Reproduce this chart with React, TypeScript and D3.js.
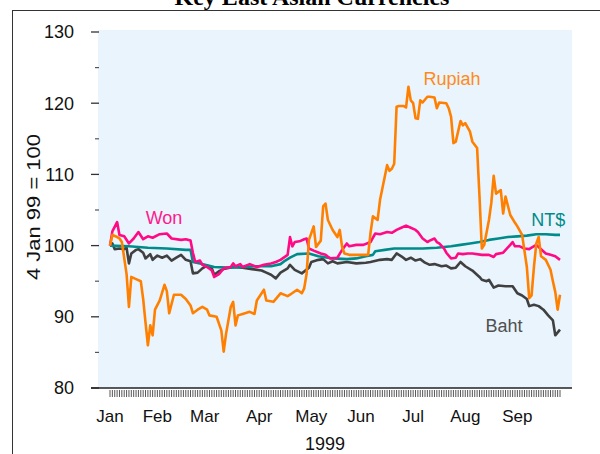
import React from "react";
import * as d3 from "d3";

// business-day index from 4 Jan 1999 (day 0)
const monthLabels = ["Jan", "Feb", "Mar", "Apr", "May", "Jun", "Jul", "Aug", "Sep"];
const monthStarts = [0, 20, 40, 63, 85, 106, 128, 150, 172];
const lastDay = 190;

const yMajor = [80, 90, 100, 110, 120, 130];
const yMinor = [85, 95, 105, 115, 125];

// [day, index value]
const rupiah: [number, number][] = [
	[0, 100], [1, 101.5], [3, 101.2], [4, 101.0], [5, 100.5], [7, 96], [8, 91.4], [9, 95.6],
	[11, 95.3], [13, 95], [14, 92.5], [15, 89.2], [16, 86.0], [17, 88.8], [18, 87.4], [19, 91],
	[21, 92.3], [23, 94.5], [24, 93.6], [25, 90.5], [27, 93.1], [30, 93.1], [32, 92.5], [34, 91.6],
	[35, 90.5], [37, 91], [39, 91.4], [41, 91], [42, 90.2], [45, 90], [47, 88.1], [48, 85.1],
	[49, 87.6], [51, 91.4], [52, 92.1], [53, 88.8], [54, 90.2], [56, 90.4], [59, 90.7], [61, 90.4],
	[62, 92.3], [65, 93.8], [66, 92.3], [69, 92.1], [72, 93.3], [75, 92.9], [76, 93.1], [79, 93.8],
	[81, 93.3], [82, 94], [83, 96], [84, 100.8], [86, 102.7], [87, 99.8], [89, 100.7], [90, 105.5],
	[91, 105.9], [92, 103.6], [94, 102.2], [96, 101.2], [97, 102.2], [98, 99.8], [99, 98.9],
	[101, 98.7], [107, 98.7], [109, 98.7], [110, 101.8], [111, 104.1], [113, 103.6], [114, 106.4],
	[117, 111.3], [118, 110.5], [119, 110.8], [120, 111.5], [121, 119.5], [122, 119.6], [124, 119.6],
	[125, 119.4], [126, 122.3], [127, 120.4], [128, 120], [129, 117.9], [130, 117.8], [131, 120.4],
	[132, 120.1], [134, 120.9], [135, 120.9], [137, 120.8], [138, 119.3], [139, 120.1], [142, 120],
	[143, 119.3], [144, 118.1], [145, 114.4], [146, 114.6], [148, 117.5], [149, 116.9], [150, 117.2],
	[152, 116], [153, 114.6], [155, 113.7], [156, 107], [157, 99.6], [158, 100.1], [160, 103.6],
	[161, 106], [162, 109.8], [163, 107.3], [165, 107.8], [166, 104.5], [167, 106.9], [169, 104.3],
	[171, 103.2], [172, 102.7], [174, 101.5], [176, 97], [177, 92.6], [178, 93.0], [179, 97],
	[180, 100.3], [181, 101.2], [182, 98.5], [184, 98.0], [186, 96.6], [187, 95.0], [188, 93.5],
	[189, 91.0], [190, 93.1]
];

const won: [number, number][] = [
	[0, 100], [1, 102], [3, 103.3], [4, 101.5], [6, 101.3], [8, 100.3], [10, 101], [12, 101.9],
	[14, 100.9], [16, 101.3], [18, 101.1], [21, 101.6], [24, 101.7], [26, 101], [30, 100.8],
	[32, 100.9], [34, 100.7], [35, 99.0], [36, 97.7], [38, 97.9], [39, 97.3], [41, 97.0], [43, 96.5],
	[44, 95.6], [46, 96.0], [48, 96.8], [51, 97.0], [52, 97.5], [53, 97.1], [55, 97.4], [56, 97.0],
	[59, 97.4], [62, 97.0], [65, 97.3], [68, 97.5], [70, 97.7], [72, 98], [75, 98.7], [76, 101.2],
	[77, 99.9], [78, 100.5], [80, 100.6], [82, 100.9], [83, 101.0], [84, 99.6], [86, 99.3],
	[89, 98.9], [91, 98.7], [93, 98.2], [96, 98.3], [98, 99.4], [100, 100.3], [101, 99.9],
	[104, 100.1], [107, 100.1], [110, 100.5], [112, 101.7], [114, 101.6], [117, 101.9], [119, 101.8],
	[121, 102.2], [123, 102.5], [125, 102.8], [127, 102.5], [129, 102.2], [130, 101.9], [132, 101.0],
	[134, 100.5], [135, 100.7], [137, 101.0], [138, 100.5], [139, 100.3], [141, 99.6], [142, 99.0],
	[144, 98.2], [146, 98.3], [147, 98.9], [149, 98.8], [151, 98.9], [153, 98.9], [157, 98.7],
	[160, 98.7], [162, 98.4], [163, 98.8], [166, 99.0], [169, 100.1], [170, 100.5], [171, 99.9],
	[173, 99.9], [175, 99.6], [177, 99.5], [178, 99.7], [180, 100.1], [182, 99.5], [184, 98.9],
	[186, 98.7], [188, 98.5], [190, 98.0]
];

const ntd: [number, number][] = [
	[0, 100], [8, 99.9], [16, 99.7], [24, 99.6], [32, 99.4], [34, 99.4], [35, 97.7], [38, 97.5],
	[44, 97.0], [50, 96.9], [56, 97.0], [62, 97.1], [68, 97.1], [72, 97.4], [74, 97.9], [76, 98.3],
	[79, 98.8], [84, 98.9], [88, 98.5], [94, 98.2], [100, 98.1], [104, 98.2], [108, 98.5],
	[111, 98.7], [112, 99.2], [116, 99.4], [120, 99.6], [126, 99.6], [132, 99.6], [138, 99.7],
	[144, 99.9], [148, 100.1], [152, 100.3], [156, 100.5], [160, 100.8], [164, 101.0], [168, 101.2],
	[172, 101.3], [176, 101.4], [180, 101.6], [184, 101.6], [188, 101.5], [190, 101.5]
];

const baht: [number, number][] = [
	[0, 100], [1, 100.3], [2, 99.5], [4, 99.6], [6, 99.5], [7, 99.7], [8, 97.5], [9, 98.9],
	[11, 99.4], [12, 99.5], [14, 99.0], [15, 98.2], [17, 98.8], [18, 98.0], [20, 98.6], [22, 98.3],
	[24, 98.6], [26, 97.9], [28, 98.3], [30, 98.7], [32, 98.0], [34, 97.8], [35, 96.1], [37, 96.2],
	[39, 96.8], [41, 97.2], [43, 96.8], [44, 95.9], [46, 96.4], [48, 96.7], [52, 97.0], [56, 96.9],
	[60, 96.7], [64, 96.5], [66, 96.2], [68, 95.9], [70, 95.4], [72, 96.2], [75, 96.8], [76, 97.3],
	[78, 96.6], [81, 96.1], [84, 96.9], [85, 97.7], [88, 98.0], [90, 98.1], [92, 97.5], [94, 97.8],
	[96, 97.5], [100, 97.7], [104, 97.5], [108, 97.6], [110, 97.7], [114, 98.0], [117, 98.1],
	[119, 98.0], [121, 98.9], [123, 98.5], [125, 98.0], [127, 98.3], [129, 97.9], [131, 98.1],
	[133, 97.6], [135, 97.3], [137, 97.4], [140, 97.1], [142, 97.2], [144, 96.8], [146, 96.9],
	[148, 97.7], [150, 97.1], [153, 96.5], [156, 95.6], [157, 95.2], [159, 95.0], [160, 95.2],
	[162, 94.1], [164, 94.4], [167, 94.3], [170, 94.3], [172, 93.3], [174, 93.0], [176, 92.5],
	[177, 91.5], [179, 91.7], [181, 91.5], [183, 91.0], [185, 90.2], [187, 89.5], [188, 87.4],
	[190, 88.2]
];

// label anchors in data units [day, value]
const series = [
	{ name: "Baht", data: baht, color: "#404040", text: "#505050", at: [166.4, 87.9] },
	{ name: "NT$", data: ntd, color: "#008b8b", text: "#008b8b", at: [185, 102.75] },
	{ name: "Won", data: won, color: "#ff0a84", text: "#ff1a8c", at: [22.8, 103.0] },
	{ name: "Rupiah", data: rupiah, color: "#ff8000", text: "#ff8a1a", at: [144.4, 122.6] }
];

const W = 600, H = 454;
const plotL = 98, plotR = 572, plotT = 30, plotB = 388;
const sans = "'Liberation Sans', Arial, sans-serif";

export default function App() {
	const x = d3.scaleLinear().domain([0, lastDay]).range([110, 560]);
	const y = d3.scaleLinear().domain([80, 130]).range([388, 32]);
	const line = d3.line<[number, number]>().x(d => x(d[0])).y(d => y(d[1]));

	return (
		<svg width={W} height={H} style={{ position: "absolute", left: 0, top: 0 }}>
			<rect x={0} y={0} width={W} height={H} fill="#fff" />
			<rect x={12.5} y={10.5} width={600} height={460} fill="none" stroke="#333" strokeWidth={1} />
			<text x={312} y={5} textAnchor="middle" fontFamily="'Liberation Serif', 'Times New Roman', serif"
				fontWeight="bold" fontSize={24}>Key East Asian Currencies</text>

			<rect x={plotL} y={plotT} width={plotR - plotL} height={plotB - plotT} fill="#eaf4fd" />

			{/* y axis */}
			{yMajor.map(v => (
				<g key={"M" + v}>
					<line x1={91} x2={99} y1={y(v)} y2={y(v)} stroke="#333" strokeWidth={1.3} />
					<text x={74} y={y(v)} dy="0.36em" textAnchor="end" fontFamily={sans} fontSize={18} fill="#111">{v}</text>
				</g>
			))}
			{yMinor.map(v => (
				<line key={"m" + v} x1={95} x2={99} y1={y(v)} y2={y(v)} stroke="#555" strokeWidth={1.2} />
			))}
			<text transform={`translate(40,207) rotate(-90)`} textAnchor="middle" fontFamily={sans} fontSize={18}
				textLength={146} lengthAdjust="spacingAndGlyphs" fill="#111">4 Jan 99 = 100</text>

			{/* x axis */}
			<line x1={91} x2={plotR} y1={plotB} y2={plotB} stroke="#222" strokeWidth={1.3} />
			{d3.range(0, lastDay + 1).map(d => (
				<line key={"t" + d} x1={x(d)} x2={x(d)} y1={390} y2={397} stroke="#444" strokeWidth={0.9} />
			))}
			{monthLabels.map((m, i) => (
				<text key={m} x={x(monthStarts[i])} y={422} textAnchor="middle" fontFamily={sans} fontSize={17} fill="#111">{m}</text>
			))}
			<text x={325} y={450} textAnchor="middle" fontFamily={sans} fontSize={18} fill="#111">1999</text>

			{/* series */}
			{series.map(s => (
				<path key={s.name} d={line(s.data) || ""} fill="none" stroke={s.color} strokeWidth={2.6}
					strokeLinejoin="round" />
			))}
			{series.map(s => (
				<text key={"l" + s.name} x={x(s.at[0])} y={y(s.at[1])} textAnchor="middle" fontFamily={sans}
					fontSize={18} fill={s.text}>{s.name}</text>
			))}
		</svg>
	);
}
